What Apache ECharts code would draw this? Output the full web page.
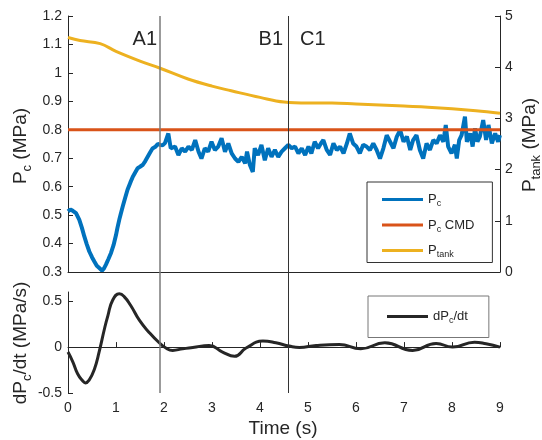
<!DOCTYPE html>
<html><head><meta charset="utf-8">
<script src="https://cdn.jsdelivr.net/npm/echarts@6/dist/echarts.min.js"></script>
<style>html,body{margin:0;padding:0;background:#fff}#c{width:542px;height:440px}</style>
</head><body><div id="c"></div>
<script>
// ---------- data ----------
const pcTime = [0,0.05,0.1,0.167,0.2,0.236,0.29,0.34,0.39,0.444,0.5,0.549,0.6,0.653,0.708,0.75,0.79,0.84,0.896,0.95,1.0,1.03,1.07,1.1,1.14,1.19,1.24,1.3,1.35,1.4,1.45,1.5,1.56,1.61,1.66,1.71,1.76,1.82,1.87,1.92,1.97,2.02,2.09,2.14,2.23,2.30,2.37,2.44,2.51,2.58,2.65,2.72,2.78,2.85,2.92,2.99,3.06,3.13,3.20,3.27,3.34,3.41,3.48,3.55,3.62,3.69,3.73,3.79,3.85,3.89,3.96,4.03,4.10,4.17,4.24,4.31,4.38,4.45,4.52,4.59,4.66,4.73,4.80,4.87,4.94,5.01,5.07,5.14,5.21,5.28,5.32,5.39,5.46,5.53,5.60,5.67,5.74,5.81,5.87,5.94,6.01,6.08,6.15,6.22,6.29,6.36,6.43,6.50,6.57,6.64,6.71,6.78,6.85,6.92,6.99,7.06,7.13,7.19,7.26,7.33,7.40,7.47,7.54,7.61,7.68,7.75,7.82,7.87,7.92,7.99,8.06,8.10,8.15,8.20,8.27,8.31,8.38,8.43,8.48,8.53,8.58,8.65,8.71,8.76,8.83,8.90,8.96,9.0];
const pcValues = [0.513,0.52,0.515,0.507,0.5,0.483,0.455,0.425,0.398,0.372,0.352,0.337,0.322,0.314,0.305,0.313,0.326,0.345,0.367,0.395,0.43,0.455,0.485,0.505,0.53,0.56,0.589,0.615,0.635,0.65,0.665,0.67,0.677,0.69,0.705,0.72,0.734,0.74,0.75,0.747,0.745,0.753,0.787,0.735,0.741,0.711,0.735,0.723,0.741,0.729,0.764,0.723,0.699,0.735,0.723,0.758,0.729,0.741,0.77,0.723,0.752,0.717,0.699,0.687,0.705,0.682,0.723,0.676,0.652,0.735,0.711,0.747,0.693,0.735,0.705,0.729,0.705,0.723,0.735,0.747,0.735,0.741,0.717,0.735,0.711,0.741,0.717,0.758,0.735,0.755,0.764,0.729,0.712,0.752,0.729,0.741,0.717,0.752,0.787,0.752,0.741,0.717,0.747,0.741,0.729,0.752,0.729,0.699,0.735,0.781,0.758,0.735,0.776,0.799,0.758,0.776,0.729,0.764,0.781,0.729,0.699,0.752,0.729,0.764,0.752,0.781,0.758,0.817,0.741,0.717,0.747,0.699,0.764,0.781,0.846,0.758,0.787,0.741,0.805,0.758,0.776,0.834,0.764,0.817,0.752,0.787,0.758,0.781];
const cmdTime = [0, 9];
const cmdValues = [0.8, 0.8];
const tankTime = [0,0.25,0.67,1.0,1.5,1.92,2.5,3.0,3.4,4.0,4.5,5.0,5.5,6.0,6.5,7.0,7.5,8.0,8.5,9.0];
const tankValues = [4.58,4.52,4.46,4.31,4.12,3.98,3.77,3.63,3.54,3.41,3.32,3.30,3.30,3.28,3.26,3.24,3.22,3.19,3.15,3.10];
const dpdtTime = [0,0.1,0.2,0.31,0.36,0.44,0.55,0.65,0.76,0.83,0.93,1.07,1.17,1.31,1.49,1.69,1.9,2.04,2.18,2.39,2.6,2.94,3.22,3.47,3.71,4.06,4.33,4.61,4.82,5.17,5.65,6.1,6.6,7.18,7.67,8.01,8.47,8.71,9.0];
const dpdtValues = [-0.054,-0.16,-0.29,-0.37,-0.39,-0.36,-0.24,-0.05,0.2,0.34,0.51,0.58,0.55,0.45,0.29,0.16,0.047,-0.01,-0.036,-0.018,-0.004,0.018,-0.054,-0.1,-0.01,0.065,0.047,0.011,-0.004,0.018,0.029,-0.018,0.047,-0.036,0.04,0,0.054,0.036,0];
const markerTimes = [1.92, 4.58];
const markerLabels = ['A1', 'B1', 'C1'];
const timeTicks = [0,1,2,3,4,5,6,7,8,9];
const dpdtTicks = [-0.5, 0, 0.5];

// ---------- chart ----------
const zip = (a, b) => a.map((v, i) => [v, b[i]]);
const FF = 'Liberation Sans, Arial, Helvetica, sans-serif';
const TXT = '#262626';
const chart = echarts.init(document.getElementById('c'), null, {renderer: 'canvas'});

const richMain = (fs, lh) => ({
  m: {fontSize: fs, fontFamily: FF, fill: TXT, color: TXT, lineHeight: lh},
  s: {fontSize: Math.round(fs * 0.68), fontFamily: FF, fill: TXT, color: TXT, verticalAlign: 'bottom', lineHeight: Math.round(fs * 0.68)}
});
const legendName = {
  'Pc': '{m|P}{s|c}',
  'Pc CMD': '{m|P}{s|c}{m| CMD}',
  'Ptank': '{m|P}{s|tank}',
  'dPc/dt': '{m|dP}{s|c}{m|/dt}'
};

const axisCommon = {
  axisLine: {show: true, lineStyle: {color: TXT, width: 1}},
  axisTick: {show: true, inside: true, length: 5, lineStyle: {color: TXT, width: 1}},
  axisLabel: {fontFamily: FF, fontSize: 14, color: TXT},
  splitLine: {show: false}
};

const option = {
  animation: false,
  backgroundColor: '#fff',
  grid: [
    {left: 68, right: 42, top: 16, height: 256, outerBoundsMode: 'none'},
    {left: 68, right: 42, top: 292, height: 101, outerBoundsMode: 'none'},
    {left: 68, right: 42, top: 16, height: 377, outerBoundsMode: 'none'}
  ],
  xAxis: [
    Object.assign({}, axisCommon, {type: 'value', gridIndex: 0, min: 0, max: 9, interval: 1,
      axisTick: {show: false}, axisLabel: {show: false}}),
    Object.assign({}, axisCommon, {type: 'value', gridIndex: 1, min: 0, max: 9, interval: 1,
      axisLabel: {fontFamily: FF, fontSize: 14, color: TXT, margin: 8}}),
    {type: 'value', gridIndex: 2, min: 0, max: 9, show: false}
  ],
  yAxis: [
    Object.assign({}, axisCommon, {type: 'value', gridIndex: 0, position: 'left', min: 0.3, max: 1.2, interval: 0.1,
      axisLabel: {fontFamily: FF, fontSize: 14, color: TXT, margin: 6}}),
    Object.assign({}, axisCommon, {type: 'value', gridIndex: 0, position: 'right', min: 0, max: 5, interval: 1,
      axisLabel: {fontFamily: FF, fontSize: 14, color: TXT, margin: 5}}),
    Object.assign({}, axisCommon, {type: 'value', gridIndex: 1, position: 'left', min: -0.5, max: 0.6,
      axisTick: {show: true, inside: true, length: 5, lineStyle: {color: TXT}, customValues: dpdtTicks},
      axisLabel: {fontFamily: FF, fontSize: 14, color: TXT, margin: 6, customValues: dpdtTicks}}),
    {type: 'value', gridIndex: 2, min: 0, max: 1, show: false}
  ],
  legend: [
    {
      data: ['Pc', 'Pc CMD', 'Ptank'], orient: 'vertical', left: 367, top: 182,
      padding: [11, 18, 3, 15], itemGap: 10, itemWidth: 41, itemHeight: 3, icon: 'rect',
      backgroundColor: '#fff', borderColor: '#333', borderWidth: 1, borderRadius: 0,
      formatter: n => legendName[n],
      textStyle: {fontFamily: FF, fontSize: 13, color: TXT, rich: richMain(13, 18)},
      selectedMode: false
    },
    {
      data: ['dPc/dt'], orient: 'vertical', left: 368, top: 296,
      padding: [14, 21, 12, 19], itemWidth: 41, itemHeight: 3, icon: 'rect',
      backgroundColor: '#fff', borderColor: '#777', borderWidth: 1, borderRadius: 0,
      formatter: n => legendName[n],
      textStyle: {fontFamily: FF, fontSize: 13, color: TXT, rich: richMain(13, 18)},
      selectedMode: false
    }
  ],
  series: [
    {name: 'Pc', type: 'line', xAxisIndex: 0, yAxisIndex: 0, data: zip(pcTime, pcValues),
      symbol: 'none', color: '#0072BD', lineStyle: {width: 4, color: '#0072BD'}},
    {name: 'Pc CMD', type: 'line', xAxisIndex: 0, yAxisIndex: 0, data: zip(cmdTime, cmdValues),
      symbol: 'none', color: '#D95319', lineStyle: {width: 3, color: '#D95319'}},
    {name: 'Ptank', type: 'line', xAxisIndex: 0, yAxisIndex: 1, data: zip(tankTime, tankValues),
      symbol: 'none', smooth: 0.4, color: '#EDB120', lineStyle: {width: 3, color: '#EDB120'}},
    {name: 'dPc/dt', type: 'line', xAxisIndex: 1, yAxisIndex: 2, data: zip(dpdtTime, dpdtValues),
      symbol: 'none', smooth: 0.5, color: '#262626', lineStyle: {width: 3, color: '#262626'}},
    {name: 'markers', type: 'line', xAxisIndex: 2, yAxisIndex: 3, data: [[0, 0]], symbol: 'none',
      lineStyle: {opacity: 0}, silent: true,
      markLine: {
        silent: true, symbol: ['none', 'none'], label: {show: false}, animation: false,
        data: [
          {xAxis: markerTimes[0], lineStyle: {color: '#7a7a7a', width: 1.5, type: 'solid'}},
          {xAxis: markerTimes[1], lineStyle: {color: '#333', width: 1, type: 'solid'}}
        ]
      }}
  ],
  graphic: [
    {type: 'text', x: 21, y: 146, rotation: Math.PI / 2,
      style: {text: '{m|P}{s|c}{m| (MPa)}', rich: richMain(19, 26), align: 'center', verticalAlign: 'middle'}},
    {type: 'text', x: 21, y: 343, rotation: Math.PI / 2,
      style: {text: '{m|dP}{s|c}{m|/dt (MPa/s)}', rich: richMain(19, 26), align: 'center', verticalAlign: 'middle'}},
    {type: 'text', x: 530, y: 145, rotation: Math.PI / 2,
      style: {text: '{m|P}{s|tank}{m| (MPa)}', rich: richMain(19, 26), align: 'center', verticalAlign: 'middle'}},
    {type: 'text', x: 283, y: 429,
      style: {text: 'Time (s)', font: '19px ' + FF, fill: TXT, align: 'center', verticalAlign: 'middle'}},
    {type: 'text', x: 157, y: 39,
      style: {text: markerLabels[0], font: '20px ' + FF, fill: TXT, align: 'right', verticalAlign: 'middle'}},
    {type: 'text', x: 283, y: 39,
      style: {text: markerLabels[1], font: '20px ' + FF, fill: TXT, align: 'right', verticalAlign: 'middle'}},
    {type: 'text', x: 300, y: 39,
      style: {text: markerLabels[2], font: '20px ' + FF, fill: TXT, align: 'left', verticalAlign: 'middle'}}
  ]
};
chart.setOption(option);
</script>
</body></html>
